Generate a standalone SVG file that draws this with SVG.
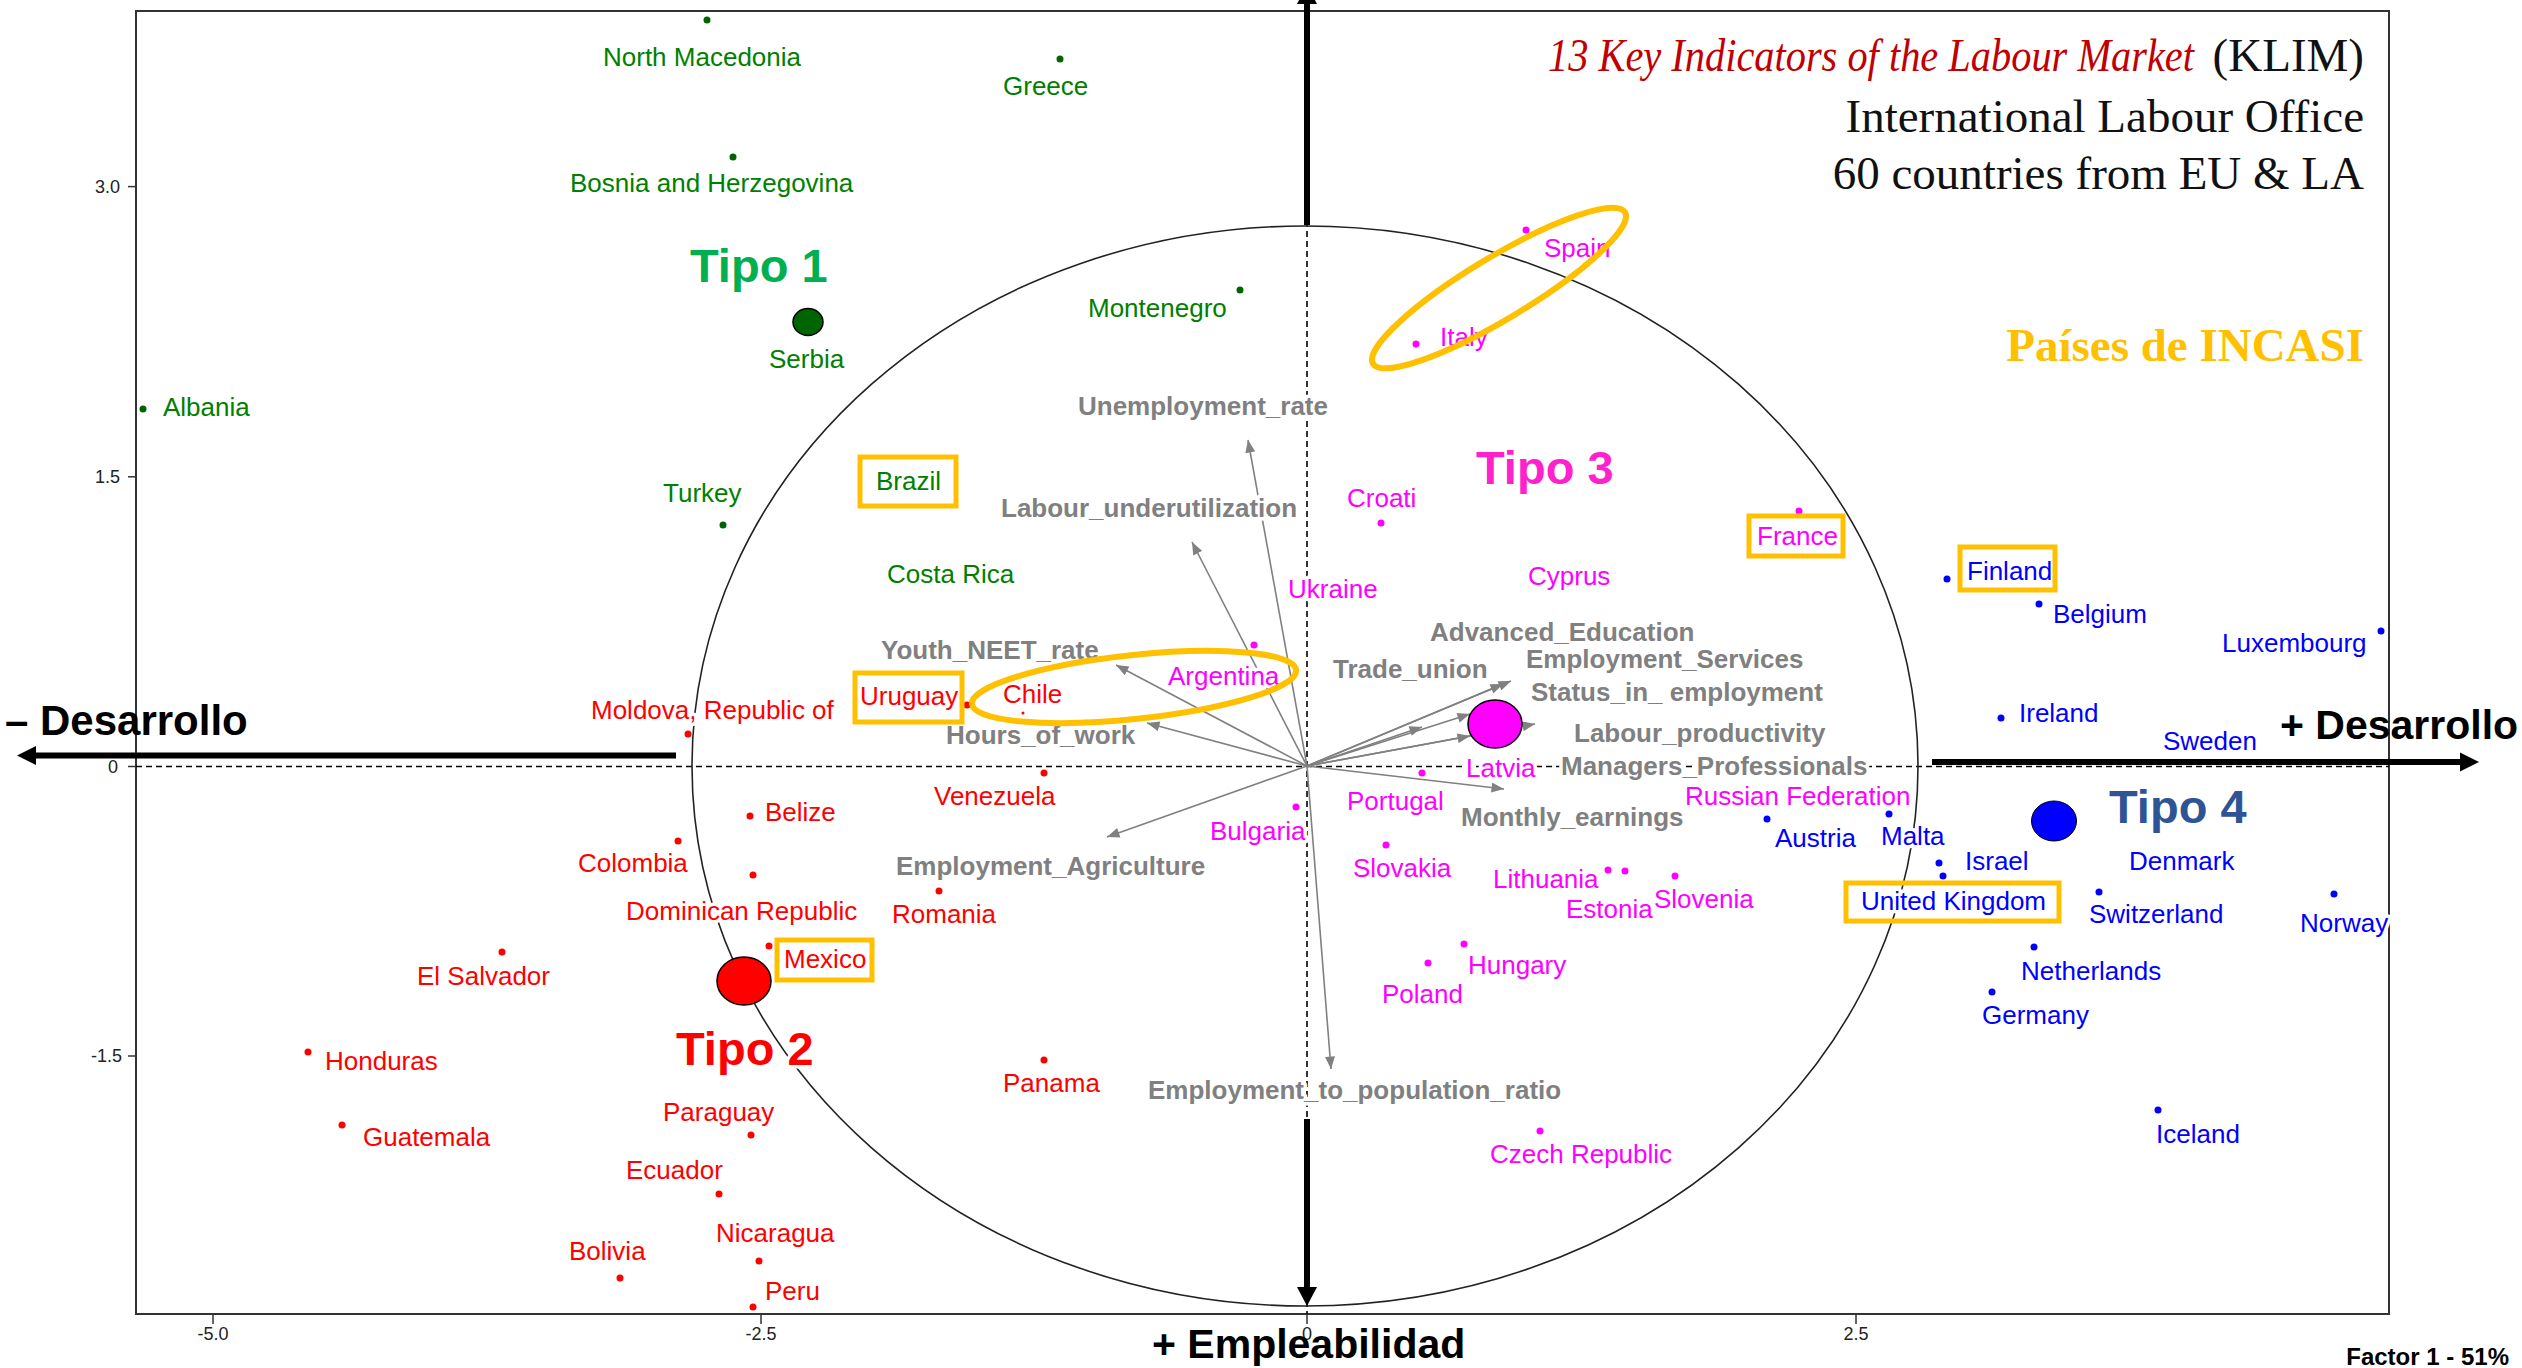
<svg xmlns="http://www.w3.org/2000/svg" width="2522" height="1368" viewBox="0 0 2522 1368">
<defs>
<style>
.lbl{font-family:"Liberation Sans",Arial,sans-serif;font-size:26px;paint-order:stroke;stroke:#fff;stroke-width:7px;stroke-linejoin:round}
.g{fill:#008000}.r{fill:#FF0000}.m{fill:#FF00FF}.b{fill:#0000FF}
.var{font-weight:bold;fill:#808080}
.tipo{font-size:47px;font-weight:bold}
.dg{fill:#006400}.dr{fill:#FF0000}.dm{fill:#FF00FF}.db{fill:#0000FF}
.box{fill:none;stroke:#FFC000;stroke-width:5}
.tick{font-family:"Liberation Sans",Arial,sans-serif;font-size:18px;fill:#222}
.big{font-family:"Liberation Sans",Arial,sans-serif;font-weight:bold;fill:#000}
.serif{font-family:"Liberation Serif","Times New Roman",serif;font-size:47px}
.vec{stroke:#808080;stroke-width:1.6;fill:none;marker-end:url(#ah)}
.thick{stroke:#000;stroke-width:6}
</style>
<marker id="ah" viewBox="0 0 10 8" refX="10" refY="4" markerWidth="13" markerHeight="10" markerUnits="userSpaceOnUse" orient="auto"><path d="M0,0 L10,4 L0,8 z" fill="#808080"/></marker>
</defs>
<rect width="2522" height="1368" fill="#fff"/>
<g id="frame">
<rect x="136" y="11" width="2253" height="1303" fill="none" stroke="#333" stroke-width="2"/>
<g stroke="#333" stroke-width="1.5">
<line x1="128" y1="186.6" x2="136" y2="186.6"/><line x1="128" y1="476.8" x2="136" y2="476.8"/><line x1="128" y1="766.5" x2="136" y2="766.5"/><line x1="128" y1="1056" x2="136" y2="1056"/>
<line x1="213" y1="1314" x2="213" y2="1324"/><line x1="761" y1="1314" x2="761" y2="1324"/><line x1="1307" y1="1314" x2="1307" y2="1324"/><line x1="1856" y1="1314" x2="1856" y2="1324"/>
</g>
<text class="tick" x="120" y="193" text-anchor="end">3.0</text>
<text class="tick" x="120" y="483" text-anchor="end">1.5</text>
<text class="tick" x="118" y="773" text-anchor="end">0</text>
<text class="tick" x="122" y="1062" text-anchor="end">-1.5</text>
<text class="tick" x="213" y="1340" text-anchor="middle">-5.0</text>
<text class="tick" x="761" y="1340" text-anchor="middle">-2.5</text>
<text class="tick" x="1307" y="1340" text-anchor="middle">0</text>
<text class="tick" x="1856" y="1340" text-anchor="middle">2.5</text>
<g stroke="#000" stroke-width="1.6" stroke-dasharray="6,4">
<line x1="136" y1="766.5" x2="2389" y2="766.5"/>
<line x1="1307" y1="11" x2="1307" y2="1314"/>
</g>
<ellipse cx="1305" cy="766" rx="613" ry="540" fill="none" stroke="#222" stroke-width="1.6"/>
</g>
<g id="connectors">
<line class="vec" x1="1307" y1="766" x2="1248" y2="440"/>
<line class="vec" x1="1307" y1="766" x2="1192" y2="542"/>
<line class="vec" x1="1307" y1="766" x2="1116" y2="665"/>
<line class="vec" x1="1307" y1="766" x2="1147" y2="723"/>
<line class="vec" x1="1307" y1="766" x2="1107" y2="837"/>
<line class="vec" x1="1307" y1="766" x2="1331" y2="1069"/>
<line class="vec" x1="1307" y1="766" x2="1504" y2="789"/>
<line class="vec" x1="1307" y1="766" x2="1511" y2="681"/>
<line class="vec" x1="1307" y1="766" x2="1503" y2="684"/>
<line class="vec" x1="1307" y1="766" x2="1422" y2="727"/>
<line class="vec" x1="1307" y1="766" x2="1470" y2="714"/>
<line class="vec" x1="1307" y1="766" x2="1535" y2="724"/>
<line class="vec" x1="1307" y1="766" x2="1470" y2="736"/>
</g>
<g id="variables">
<text class="lbl var" x="1078" y="415">Unemployment_rate</text>
<text class="lbl var" x="1001" y="517">Labour_underutilization</text>
<text class="lbl var" x="881" y="659">Youth_NEET_rate</text>
<text class="lbl var" x="946" y="744">Hours_of_work</text>
<text class="lbl var" x="896" y="875">Employment_Agriculture</text>
<text class="lbl var" x="1333" y="678">Trade_union</text>
<text class="lbl var" x="1430" y="641">Advanced_Education</text>
<text class="lbl var" x="1526" y="668">Employment_Services</text>
<text class="lbl var" x="1531" y="701">Status_in_ employment</text>
<text class="lbl var" x="1574" y="742">Labour_productivity</text>
<text class="lbl var" x="1561" y="775">Managers_Professionals</text>
<text class="lbl var" x="1461" y="826">Monthly_earnings</text>
<text class="lbl var" x="1148" y="1099">Employment_to_population_ratio</text>
</g>
<g id="tipo1-countries">
<g id="north-macedonia"><text class="lbl g" x="603" y="66">North Macedonia</text><circle class="dg" cx="707" cy="20" r="3.5"/></g>
<g id="greece"><text class="lbl g" x="1003" y="95">Greece</text><circle class="dg" cx="1060" cy="59" r="3.5"/></g>
<g id="bosnia"><text class="lbl g" x="570" y="192">Bosnia and Herzegovina</text><circle class="dg" cx="733" cy="157" r="3.5"/></g>
<g id="albania"><text class="lbl g" x="163" y="416">Albania</text><circle class="dg" cx="143" cy="409" r="3.5"/></g>
<g id="montenegro"><text class="lbl g" x="1088" y="317">Montenegro</text><circle class="dg" cx="1240" cy="290" r="3.5"/></g>
<g id="serbia"><text class="lbl g" x="769" y="368">Serbia</text><ellipse cx="808" cy="322" rx="15" ry="13.5" fill="#006400" stroke="#000" stroke-width="1.5"/></g>
<g id="turkey"><text class="lbl g" x="663" y="502">Turkey</text><circle class="dg" cx="723" cy="525" r="3.5"/></g>
<g id="brazil"><text class="lbl g" x="876" y="490">Brazil</text><rect class="box" x="860" y="457" width="96" height="49"/></g>
<g id="costa-rica"><text class="lbl g" x="887" y="583">Costa Rica</text></g>
<g id="tipo1"><text class="lbl tipo" x="690" y="282" fill="#00B050">Tipo 1</text></g>
</g>
<g id="tipo2-countries">
<g id="moldova"><text class="lbl r" x="591" y="719">Moldova, Republic of</text><circle class="dr" cx="688" cy="734" r="3.5"/></g>
<g id="uruguay"><text class="lbl r" x="860" y="705">Uruguay</text><circle class="dr" cx="967" cy="705" r="3.5"/><rect class="box" x="855" y="673" width="107" height="49"/></g>
<g id="chile"><text class="lbl r" x="1003" y="703">Chile</text><circle class="dr" cx="1023" cy="713" r="1.5"/></g>
<g id="venezuela"><text class="lbl r" x="934" y="805">Venezuela</text><circle class="dr" cx="1044" cy="773" r="3.5"/></g>
<g id="belize"><text class="lbl r" x="765" y="821">Belize</text><circle class="dr" cx="750" cy="816" r="3.5"/></g>
<g id="colombia"><text class="lbl r" x="578" y="872">Colombia</text><circle class="dr" cx="678" cy="841" r="3.5"/></g>
<g id="dominican-republic"><text class="lbl r" x="626" y="920">Dominican Republic</text><circle class="dr" cx="753" cy="875" r="3.5"/></g>
<g id="romania"><text class="lbl r" x="892" y="923">Romania</text><circle class="dr" cx="939" cy="891" r="3.5"/></g>
<g id="mexico"><text class="lbl r" x="784" y="968">Mexico</text><circle class="dr" cx="769" cy="946" r="3.5"/><rect class="box" x="777" y="940" width="95" height="40"/></g>
<g id="tipo2-centroid"><ellipse cx="744" cy="981" rx="27" ry="24" fill="#FF0000" stroke="#000" stroke-width="1.5"/></g>
<g id="el-salvador"><text class="lbl r" x="417" y="985">El Salvador</text><circle class="dr" cx="502" cy="952" r="3.5"/></g>
<g id="tipo2"><text class="lbl tipo" x="676" y="1065" fill="#FF0000">Tipo 2</text></g>
<g id="honduras"><text class="lbl r" x="325" y="1070">Honduras</text><circle class="dr" cx="308" cy="1052" r="3.5"/></g>
<g id="panama"><text class="lbl r" x="1003" y="1092">Panama</text><circle class="dr" cx="1044" cy="1060" r="3.5"/></g>
<g id="paraguay"><text class="lbl r" x="663" y="1121">Paraguay</text><circle class="dr" cx="751" cy="1135" r="3.5"/></g>
<g id="guatemala"><text class="lbl r" x="363" y="1146">Guatemala</text><circle class="dr" cx="342" cy="1125" r="3.5"/></g>
<g id="ecuador"><text class="lbl r" x="626" y="1179">Ecuador</text><circle class="dr" cx="719" cy="1194" r="3.5"/></g>
<g id="nicaragua"><text class="lbl r" x="716" y="1242">Nicaragua</text><circle class="dr" cx="759" cy="1261" r="3.5"/></g>
<g id="bolivia"><text class="lbl r" x="569" y="1260">Bolivia</text><circle class="dr" cx="620" cy="1278" r="3.5"/></g>
<g id="peru"><text class="lbl r" x="765" y="1300">Peru</text><circle class="dr" cx="753" cy="1307" r="3.5"/></g>
</g>
<g id="tipo3-countries">
<g id="spain"><text class="lbl m" x="1544" y="257">Spain</text><circle class="dm" cx="1526" cy="230" r="3.5"/></g>
<g id="italy"><text class="lbl m" x="1440" y="346">Italy</text><circle class="dm" cx="1416" cy="344" r="3.5"/></g>
<g id="croatia"><text class="lbl m" x="1347" y="507">Croati</text><circle class="dm" cx="1381" cy="523" r="3.5"/></g>
<g id="tipo3"><text class="lbl tipo" x="1476" y="484" fill="#FF22CC">Tipo 3</text></g>
<g id="france"><text class="lbl m" x="1757" y="545">France</text><circle class="dm" cx="1799" cy="511" r="3.5"/><rect class="box" x="1749" y="516" width="94" height="40"/></g>
<g id="ukraine"><text class="lbl m" x="1288" y="598">Ukraine</text></g>
<g id="cyprus"><text class="lbl m" x="1528" y="585">Cyprus</text></g>
<g id="argentina"><text class="lbl m" x="1168" y="685">Argentina</text><circle class="dm" cx="1254" cy="645" r="3.5"/></g>
<g id="bulgaria"><text class="lbl m" x="1210" y="840">Bulgaria</text><circle class="dm" cx="1296" cy="807" r="3.5"/></g>
<g id="portugal"><text class="lbl m" x="1347" y="810">Portugal</text><circle class="dm" cx="1422" cy="773" r="3.5"/></g>
<g id="slovakia"><text class="lbl m" x="1353" y="877">Slovakia</text><circle class="dm" cx="1386" cy="845" r="3.5"/></g>
<g id="latvia"><text class="lbl m" x="1466" y="777">Latvia</text><ellipse cx="1495" cy="724" rx="27" ry="24" fill="#FF00FF" stroke="#000" stroke-width="1.5"/></g>
<g id="lithuania"><text class="lbl m" x="1493" y="888">Lithuania</text><circle class="dm" cx="1608" cy="870" r="3.5"/></g>
<g id="estonia"><text class="lbl m" x="1566" y="918">Estonia</text><circle class="dm" cx="1625" cy="871" r="3.5"/></g>
<g id="slovenia"><text class="lbl m" x="1654" y="908">Slovenia</text><circle class="dm" cx="1675" cy="876" r="3.5"/></g>
<g id="hungary"><text class="lbl m" x="1468" y="974">Hungary</text><circle class="dm" cx="1464" cy="944" r="3.5"/></g>
<g id="poland"><text class="lbl m" x="1382" y="1003">Poland</text><circle class="dm" cx="1428" cy="963" r="3.5"/></g>
<g id="czech-republic"><text class="lbl m" x="1490" y="1163">Czech Republic</text><circle class="dm" cx="1540" cy="1131" r="3.5"/></g>
<g id="russian-federation"><text class="lbl m" x="1685" y="805">Russian Federation</text></g>
</g>
<g id="tipo4-countries">
<g id="finland"><text class="lbl b" x="1967" y="580">Finland</text><circle class="db" cx="1947" cy="579" r="3.5"/><rect class="box" x="1960" y="547" width="95" height="43"/></g>
<g id="belgium"><text class="lbl b" x="2053" y="623">Belgium</text><circle class="db" cx="2039" cy="604" r="3.5"/></g>
<g id="luxembourg"><text class="lbl b" x="2222" y="652">Luxembourg</text><circle class="db" cx="2381" cy="631" r="3.5"/></g>
<g id="ireland"><text class="lbl b" x="2019" y="722">Ireland</text><circle class="db" cx="2001" cy="718" r="3.5"/></g>
<g id="sweden"><text class="lbl b" x="2163" y="750">Sweden</text></g>
<g id="austria"><text class="lbl b" x="1775" y="847">Austria</text><circle class="db" cx="1767" cy="819" r="3.5"/></g>
<g id="malta"><text class="lbl b" x="1881" y="845">Malta</text><circle class="db" cx="1889" cy="814" r="3.5"/></g>
<g id="israel"><text class="lbl b" x="1965" y="870">Israel</text><circle class="db" cx="1939" cy="863" r="3.5"/></g>
<g id="united-kingdom"><text class="lbl b" x="1861" y="910">United Kingdom</text><circle class="db" cx="1943" cy="876" r="3.5"/><rect class="box" x="1846" y="883" width="213" height="38"/></g>
<g id="tipo4-centroid"><ellipse cx="2054" cy="821" rx="22.5" ry="20" fill="#0000FF" stroke="#000" stroke-width="1"/></g>
<g id="tipo4"><text class="lbl tipo" x="2109" y="823" fill="#2F5496">Tipo 4</text></g>
<g id="denmark"><text class="lbl b" x="2129" y="870">Denmark</text></g>
<g id="switzerland"><text class="lbl b" x="2089" y="923">Switzerland</text><circle class="db" cx="2099" cy="892" r="3.5"/></g>
<g id="norway"><text class="lbl b" x="2300" y="932">Norway</text><circle class="db" cx="2334" cy="894" r="3.5"/></g>
<g id="netherlands"><text class="lbl b" x="2021" y="980">Netherlands</text><circle class="db" cx="2034" cy="947" r="3.5"/></g>
<g id="germany"><text class="lbl b" x="1982" y="1024">Germany</text><circle class="db" cx="1992" cy="992" r="3.5"/></g>
<g id="iceland"><text class="lbl b" x="2156" y="1143">Iceland</text><circle class="db" cx="2158" cy="1110" r="3.5"/></g>
</g>
<g id="highlights" fill="none" stroke="#FFC000" stroke-width="6">
<ellipse cx="1499" cy="288" rx="147" ry="31" transform="rotate(-31 1499 288)"/>
<ellipse cx="1134" cy="687" rx="163" ry="32" transform="rotate(-6 1134 687)"/>
</g>
<g id="axis-arrows">
<line class="thick" x1="676" y1="755.5" x2="34" y2="755.5"/>
<polygon points="17,755.5 36,746 36,765" fill="#000"/>
<line class="thick" x1="1932" y1="762" x2="2462" y2="762"/>
<polygon points="2479,762 2460,752.5 2460,771.5" fill="#000"/>
<line class="thick" x1="1307" y1="225" x2="1307" y2="3"/>
<polygon points="1307,-15 1297,4 1317,4" fill="#000"/>
<line class="thick" x1="1307" y1="1119" x2="1307" y2="1290"/>
<polygon points="1307,1306 1297,1287 1317,1287" fill="#000"/>
<text class="big" x="5" y="735" font-size="42">– Desarrollo</text>
<text class="big" x="2280" y="739" font-size="41">+ Desarrollo</text>
<text class="big" x="1152" y="1358" font-size="41">+ Empleabilidad</text>
<text class="big" x="2509" y="1365" font-size="24" text-anchor="end">Factor 1 - 51%</text>
</g>
<g id="title">
<text class="serif" x="1548" y="71" font-style="italic" fill="#C00000" textLength="646" lengthAdjust="spacingAndGlyphs">13 Key Indicators of  the Labour Market</text>
<text class="serif" x="2364" y="71" text-anchor="end" fill="#111">(KLIM)</text>
<text class="serif" x="2364" y="132" text-anchor="end" fill="#111">International Labour Office</text>
<text class="serif" x="2364" y="189" text-anchor="end" fill="#111">60 countries from EU &amp; LA</text>
<text class="serif" x="2364" y="361" text-anchor="end" fill="#FFC000" font-weight="bold">Países de INCASI</text>
</g>
</svg>
